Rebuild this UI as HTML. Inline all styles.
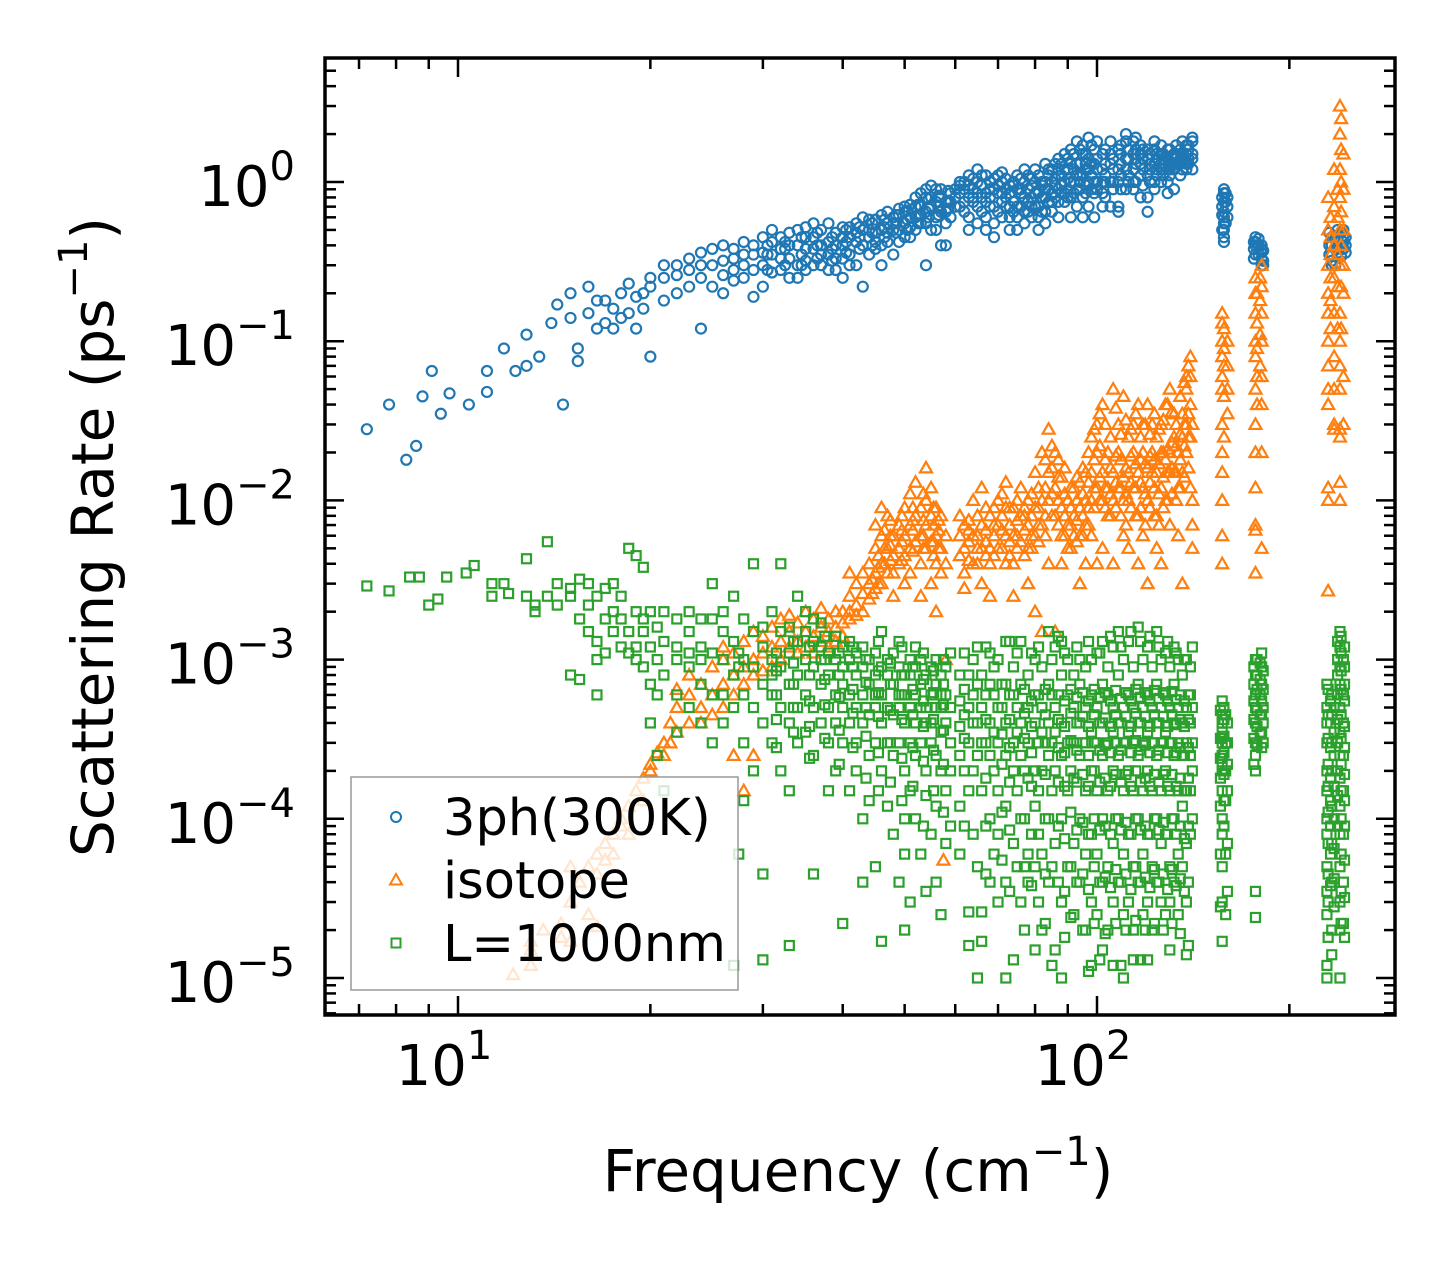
<!DOCTYPE html>
<html><head><meta charset="utf-8"><title>Scattering Rate</title>
<style>html,body{margin:0;padding:0;background:#fff;}svg{display:block;font-family:"DejaVu Sans","Liberation Sans",sans-serif;}</style>
</head><body>
<svg id="chart" width="1455" height="1265" viewBox="0 0 1455 1265" xmlns="http://www.w3.org/2000/svg">
<rect width="1455" height="1265" fill="#fff"/>
<g id="marks"></g>
<g id="axes"></g>
</svg>
<script>
// ---- data (frequency in cm^-1, rates in ps^-1, grouped by frequency) ----
const xTickValues=[10,100];
const xTickLabels=["1","2"];
const yTickValues=[1,0.1,0.01,0.001,0.0001,0.00001];
const yTickLabels=["0","\u22121","\u22122","\u22123","\u22124","\u22125"];
const seriesNames=["3ph(300K)","isotope","L=1000nm"];

const phFreq=[7.2,7.8,8.3,8.6,8.8,9.1,9.4,9.7,10.4,11.1,11.8,12.3,12.8,13.4,14,14.3,14.6,15,15.4,16,16.5,17,17.5,18,18.5,19,19.5,20,21,22,23,24,25,26,27,28,29,30,31,32,33,34,35,36,37,38,39,40,41,42,43,44,45,46,47,48,49,50,51,52,53,54,55,56,57,58,59,61,63,65,67,69,71,73,75,77,79,81,83,85,87,89,91,93,95,97,99,102,105,108,111,114,117,120,123,126,129,132,135,138,141,158,160,177,181,233,238,243];
const phRate=[[.028],[.04],[.018],[.022],[.045],[.065],[.035],[.047],[.04],[.065,.048],[.09],[.065],[.11,.07],[.08],[.13],[.17],[.04],[.2,.14],[.09,.075],[.15,.22],[.12,.18],[.18,.13],[.12,.16],[.2,.14],[.15,.23],[.12,.19],[.2,.16],[.08,.22,.25],[.25,.18,.3],[.3,.2,.26],[.22,.28,.33],[.12,.3,.25,.36],[.3,.22,.38],[.32,.26,.4,.2],[.28,.38,.33,.24],[.3,.25,.42,.35],[.35,.4,.28,.19],[.3,.22,.45,.36],[.42,.35,.27,.5],[.28,.45,.33,.38],[.33,.25,.48,.4],[.4,.5,.3,.25],[.32,.28,.45,.38,.52],[.45,.38,.3,.55],[.3,.5,.4,.35],[.35,.42,.28,.55],[.28,.48,.4,.33],[.4,.33,.52,.45,.25],[.52,.45,.35,.3],[.3,.55,.42,.48],[.4,.22,.5,.6],[.5,.45,.35,.58],[.58,.38,.48,.42],[.5,.62,.4,.3],[.42,.55,.65,.48],[.35,.6,.5,.55],[.5,.62,.42,.68],[.65,.45,.55,.7],[.45,.6,.72,.52],[.6,.7,.5,.8],[.7,.55,.85,.62],[.55,.8,.65,.9,.3],[.8,.5,.7,.95],[.5,.9,.6,.75],[.9,.65,.4,.8],[.65,.4,.75,.55],[.75,.85,.6],[.85,.95,.7,1.0],[.8,.95,.6,1.1,.5],[1.0,.7,.85,.55,1.2],[.85,1.1,.6,.75,.5],[.55,.9,1.05,.7,.45],[.75,1.0,.6,.85,1.15],[.6,.85,.95,.5,.7],[.5,.7,.9,1.1,.6],[1.0,.8,.65,.55,1.2],[.6,.95,.8,.7,1.05],[.7,1.1,.85,.6,.5],[.55,.8,1.0,.9,.65,1.3],[1.0,.65,.85,1.2,.75],[1.2,.9,.75,1.4,.6],[.75,1.5,1.0,.85,1.2],[1.0,.6,1.3,.8,1.6],[1.3,1.8,.9,1.1,.7],[.8,1.1,1.5,1.7,.6],[.7,1.4,1.0,1.2,1.9],[1.0,.6,1.3,.85,1.6],[1.2,.85,1.5,1.0,.7],[1.5,1.0,.7,1.3,1.8],[1.0,.7,1.2,1.6,.65],[1.8,1.2,.9,2.0,1.4],[1.2,.9,1.5,1.8,1.0],[1.5,1.1,.8,1.3,1.7],[1.1,.8,1.4,.65,1.6],[1.6,1.3,1.0,1.8,.9],[1.3,1.0,1.5,1.2,1.7],[1.0,1.4,1.2,1.6,.85],[1.2,.9,1.5,1.3],[1.6,1.3,1.4,1.1],[1.3,1.5,1.7,1.2],[1.5,1.8,1.2,1.9,1.4],[.45,.55,.65,.75,.85,.9,.6,.5,.42],[.8,.7,.6],[.45,.4,.35,.42],[.38,.33,.3,.4,.36],[.45,.35,.3,.4,.32],[.5,.42,.38,.45,.36],[.42,.38,.5,.46]];
const phFreq2=[30.5,32.5,34.5,36.5,38.5,40.5,42.5,44.5,46.5,48.5,50.5,52.5,54.5,56.5,58.5,60,62,64,66,68,70,72,74,76,78,80,82,84,86,88,90,92,94,96,98,100,103,106,109,112,115,118,121,124,127,130,133,136,139,157,159,176,179,182,231,236,241,245];
const phRate2=[[.35,.28,.4],[.38,.3,.42],[.35,.45,.3],[.4,.33,.48],[.45,.38,.32],[.42,.5,.36],[.45,.38,.52],[.48,.4,.55],[.52,.45,.58],[.55,.48,.62],[.58,.5,.66],[.62,.55,.72],[.68,.6,.78],[.7,.62,.82],[.75,.68,.88],[.9,.7,.8],[.75,1.0,.65,.9],[.9,.75,1.05,.8],[.8,.95,.65,1.1],[.7,.9,.8,1.0],[.85,.65,1.1,.95],[.8,.7,.9,1.05],[.95,.75,.65,1.0],[.85,1.05,.7,.9],[.9,.75,1.1,.65],[.85,1.0,.7,1.2],[.8,.95,.65,1.0],[.9,1.1,.75,1.2],[.95,.8,1.05,1.3],[1.1,.85,1.3,.95],[1.2,.9,1.05,.8,1.4],[1.0,1.2,.85,1.5],[1.1,.9,1.3,1.0,1.6],[1.3,.95,1.2,1.5,.85],[1.1,1.3,.9,1.7],[1.2,.9,1.0,1.4,1.8],[1.0,1.3,1.1,.8,1.6],[1.2,.9,1.0,1.4],[1.3,1.1,1.5,.9,1.7],[1.0,1.4,1.6,1.1],[1.3,1.0,1.6,1.4,1.9],[1.2,1.4,.95,1.6],[1.3,1.5,1.0,1.2],[1.1,1.4,1.2,1.5],[1.5,1.2,1.4,1.1],[1.3,1.1,1.6,1.2],[1.4,1.5,1.3,1.7],[1.2,1.4,1.5,1.8],[1.4,1.6,1.3,1.7],[.5,.7,.8,.62],[.55,.75,.85],[.42,.38,.33],[.4,.35,.44],[.32,.37,.3],[.4,.48,.35],[.44,.38,.3],[.48,.4,.34],[.4,.45,.36]];

const isoFreq=[12.2,13,13.6,14.5,15,15.5,16,16.5,17,17.5,18,18.5,19,19.5,20,20.5,21,21.5,22,23,24,25,26,27,28,29,30,31,32,33,34,35,36,37,38,39,40,41,42,43,44,45,46,47,48,49,50,51,52,53,54,55,56,57,57.5,58,62,64,66,68,70,72,74,76,78,80,82,84,86,88,90,92,94,96,98,100,102,104,106,108,110,112,114,116,118,120,122,124,126,128,130,132,134,136,138,140,141,157,160,177,181,230,235,240,243];
const isoRate=[[1.05e-5],[1.5e-5,1.7e-5,1.2e-5],[2e-5],[2.2e-5,1.8e-5],[3e-5,5e-5,1.7e-5],[4e-5],[5e-5,2.5e-5],[6e-5,4.5e-5,2.1e-5],[7e-5,5.5e-5],[8e-5,6e-5],[1e-4,9e-5],[1.2e-4,8e-5],[1.5e-4],[1.8e-4,1.3e-4],[2e-4,2.2e-4],[2.6e-4],[3e-4,2.5e-4],[4e-4,3e-4],[5e-4,3.5e-4,6.5e-4],[6e-4,4e-4,8e-4],[7e-4,5e-4,4e-4],[9e-4,6e-4,4.5e-4],[1e-3,7e-4,5e-4,1.2e-3],[1.1e-3,8e-4,6e-4,2.5e-4],[1.3e-3,9e-4,7e-4,1.5e-4],[1.5e-3,1e-3,8e-4,2.5e-4],[1.4e-3,1.1e-3,8.5e-4],[1.6e-3,1.2e-3,9e-4],[1.8e-3,1.3e-3,1e-3],[1.5e-3,1.2e-3,1.9e-3],[1.7e-3,1.3e-3,1.1e-3],[1.5e-3,1.2e-3,2e-3],[1.8e-3,1.4e-3,1.1e-3],[1.6e-3,1.3e-3,2.1e-3],[1.5e-3,1.2e-3,1.8e-3],[1.6e-3,2e-3,1.3e-3],[2e-3,1.7e-3,1.4e-3],[2.5e-3,2e-3,3.5e-3,1.8e-3],[2.2e-3,3e-3,1.9e-3],[2.6e-3,3.5e-3,2e-3],[3e-3,2.4e-3,4e-3],[5e-3,3.5e-3,2.8e-3,7e-3],[6e-3,4e-3,3e-3,9e-3],[5e-3,8e-3,3.5e-3],[4.5e-3,6e-3,3.5e-3,2.5e-3],[5e-3,7e-3,4e-3],[6e-3,9e-3,4.5e-3,3e-3],[7e-3,1.1e-2,5e-3,3.5e-3],[8e-3,5.5e-3,1.3e-2],[6e-3,9e-3,4e-3,2.5e-3],[1e-2,7e-3,1.6e-2,5e-3],[8e-3,1.2e-2,5.5e-3,3e-3],[6e-3,4e-3,9e-3,2e-3],[5e-3,8e-3,3.5e-3],[5.5e-5],[6e-3,1e-3,4e-3],[5e-3,7e-3,3.5e-3,2.8e-3],[6e-3,1e-2,4e-3],[7e-3,5e-3,1.2e-2,3e-3],[5e-3,8e-3,4e-3,2.5e-3],[7e-3,1e-2,5e-3],[9e-3,6e-3,1.3e-2,4e-3],[6e-3,9e-3,4e-3,2.5e-3],[8e-3,1.2e-2,5.5e-3],[7e-3,5e-3,1e-2,3e-3],[9e-3,1.5e-2,6e-3,2e-3],[1e-2,2e-2,7e-3,1.5e-3],[1.5e-2,2.8e-2,1e-2,4e-3],[1.2e-2,2e-2,8e-3,1.5e-3],[9e-3,1.4e-2,6e-3,4e-3],[1e-2,7e-3,5e-3],[8e-3,1.2e-2,6e-3],[9e-3,6e-3,1.3e-2,3e-3],[1e-2,7e-3,1.5e-2,4e-3],[1.5e-2,2.5e-2,1e-2,6e-3],[2e-2,3e-2,1.2e-2,4e-3],[1.5e-2,4e-2,1e-2,5e-3],[1.2e-2,2e-2,8e-3],[1.5e-2,5e-2,1e-2,4e-3],[2e-2,1.2e-2,3e-2],[1.4e-2,4.5e-2,1e-2,6e-3],[1.5e-2,2.5e-2,1e-2,5e-3],[2e-2,3e-2,1.2e-2],[1.5e-2,4e-2,8e-3,4e-3],[2e-2,1.2e-2,3e-2,6e-3],[1.6e-2,4e-2,1e-2,3e-3],[2e-2,3e-2,1.5e-2],[1.5e-2,2.5e-2,8e-3,5e-3],[2e-2,1.2e-2,3e-2,4e-3],[1.8e-2,4e-2,1e-2],[2e-2,5e-2,1.5e-2,7e-3],[2.5e-2,1.5e-2,3.5e-2],[2e-2,1.2e-2,6e-3],[2.5e-2,3.5e-2,1.5e-2,3e-3],[3e-2,5e-2,6e-2,2e-2],[4e-2,6e-2,8e-2,2.5e-2,1.2e-2],[3e-2,1e-2,5e-3,7e-3],[.06,.1,.13,.08,.15,.05,.03,.02,.015,.01,.006,.004],[.1,.07,.05,.035],[.15,.2,.25,.1,.08,.05,.03,.02,.012,.007,.0065,.0035],[.3,.22,.15,.1,.06,.04,.02,.005],[.8,.5,.3,.2,.15,.1,.07,.05,.04,.012,.01,.0027],[1.2,.7,.4,.25,.15,.08,.05,.03,.028],[3,2,1.2,.8,.5,.3,.15,.1,.07,.05,.028,.025,.013,.01],[1.5,.9,.5,.3,.2,.06,.03]];
const isoFreq2=[44.5,45.5,46.5,47.5,49.5,51.5,53.5,55.5,56.5,61,63,65,67,69,71,73,75,77,79,81,83,85,87,89,91,93,95,97,99,101,103,105,107,109,111,113,115,117,119,121,123,125,127,129,131,133,135,137,139,158,178,180,232,238,241];
const isoRate2=[[2.6e-3,3.2e-3],[3.8e-3,4.5e-3,3e-3],[5e-3,6.5e-3,4e-3],[6e-3,4.2e-3,7.5e-3,5.2e-3],[5.5e-3,4.2e-3,8e-3,6.5e-3],[6.5e-3,9e-3,4.8e-3,7.5e-3],[7.5e-3,5e-3,1.1e-2,6e-3],[7e-3,9e-3,5.5e-3,4.5e-3],[6.5e-3,5e-3,7.5e-3],[4.5e-3,6e-3,8e-3],[5.5e-3,4.2e-3,7.5e-3,6.5e-3],[6e-3,8e-3,5e-3,4e-3],[5.5e-3,9e-3,6.5e-3,4.5e-3],[6e-3,4.5e-3,7e-3,9e-3],[6.5e-3,8e-3,5e-3,1.1e-2],[7e-3,5.5e-3,9e-3,4.5e-3],[7.5e-3,5e-3,1e-2,6e-3],[6.5e-3,9e-3,4.5e-3,8e-3],[8e-3,6e-3,1.1e-2,5e-3],[9e-3,1.2e-2,7e-3,5.5e-3],[1.2e-2,8e-3,1.8e-2,6e-3],[1.6e-2,1.1e-2,2.2e-2,8e-3],[1.4e-2,1e-2,1.8e-2,7e-3],[1.1e-2,8e-3,1.6e-2,6e-3],[9e-3,1.2e-2,7e-3,5e-3],[1e-2,7.5e-3,1.4e-2,5.5e-3],[1.1e-2,8e-3,1.6e-2,6e-3],[1.3e-2,9e-3,2e-2,7e-3],[1.8e-2,1.2e-2,2.8e-2,9e-3],[2.2e-2,1.4e-2,3.5e-2,1e-2],[1.8e-2,1.2e-2,3e-2,9e-3],[1.6e-2,1.1e-2,2.5e-2,8e-3],[1.9e-2,1.3e-2,3.8e-2,9e-3],[1.8e-2,1.2e-2,2.6e-2,8e-3],[1.6e-2,1.1e-2,3.2e-2,7e-3],[1.9e-2,1.3e-2,2.8e-2,9e-3],[1.7e-2,1.2e-2,3.5e-2,8e-3],[1.8e-2,1.3e-2,2.5e-2,9e-3],[1.7e-2,1.1e-2,3e-2,7e-3],[1.9e-2,1.3e-2,2.6e-2,9e-3],[1.8e-2,1.2e-2,3.5e-2,8e-3],[1.7e-2,1.1e-2,2.8e-2,7e-3],[2e-2,1.4e-2,3.2e-2,9e-3],[2.1e-2,1.5e-2,4e-2,1e-2],[2.3e-2,1.6e-2,3.6e-2,1.1e-2],[2.2e-2,1.5e-2,3e-2,1e-2],[2.6e-2,1.8e-2,4.5e-2,1.2e-2],[3e-2,2.2e-2,5.5e-2,1.4e-2],[3.5e-2,2.5e-2,7e-2,1.6e-2],[.12,.09,.07,.045,.025],[.2,.13,.09,.06,.04],[.25,.18,.11,.07],[.6,.45,.35,.25,.18,.12],[.9,.6,.35,.22,.12],[2.5,1.6,1,.65,.4,.22,.12]];

const bndFreq=[7.2,7.8,8.4,8.7,9,9.3,9.6,10.3,10.6,11.3,11.8,12,12.8,13.2,13.8,14.3,15,15.5,16,16.5,17,17.5,18,18.5,19,19.5,20,20.5,21,22,23,24,25,26,27,27.5,28,29,30,31,32,33,34,35,36,37,38,39,40,41,42,43,44,45,46,47,48,49,50,51,52,53,54,55,56,57,58,59,63,64,65,66,68,69,70,72,74,75,76,78,80,81,82,84,85,86,88,90,92,94,96,98,100,102,104,106,108,110,112,114,116,118,120,122,124,126,128,130,132,134,136,138,140,141,157,159,177,181,229,233,240,243];
const bndRate=[[2.9e-3],[2.7e-3],[3.3e-3],[3.3e-3],[2.2e-3],[2.4e-3],[3.3e-3],[3.5e-3],[3.9e-3],[3e-3,2.5e-3],[3e-3],[2.6e-3],[4.3e-3,2.5e-3],[2e-3,2.2e-3],[5.5e-3,2.5e-3],[3e-3,2.2e-3],[2.5e-3,8e-4,2.8e-3],[3.2e-3,1.8e-3,7.5e-4],[1.5e-3,3e-3,2.2e-3],[1.3e-3,2.5e-3,1e-3,6e-4],[2.8e-3,1.1e-3,1.8e-3],[2e-3,1.5e-3,3e-3],[1.2e-3,2.5e-3,1.8e-3],[1.5e-3,5e-3,1.1e-3],[2e-3,1e-3,4.5e-3,1.2e-3],[1.8e-3,9e-4,1.5e-3,3.8e-3],[2e-3,1.2e-3,7e-4,4e-4],[1.6e-3,1e-3,6e-4,2.5e-4],[1.3e-3,2e-3,8e-4,1.5e-4],[1.8e-3,1e-3,6e-4,1.2e-3,3.5e-4],[1.5e-3,9e-4,2e-3,5e-4,1.1e-3],[1.2e-3,7e-4,1.8e-3,4e-4,1e-3],[1.8e-3,1.1e-3,6e-4,3e-3,3e-4],[1e-3,1.5e-3,6e-4,4e-4,2e-3],[1.3e-3,8e-4,5e-4,2.5e-3,1.2e-5],[6e-5,9e-4,1.1e-3],[1.8e-3,1e-3,6e-4,3e-4,1.3e-4],[1.5e-3,4e-3,9e-4,5e-4,2e-4],[1.2e-3,7e-4,4e-4,1.6e-3,4.5e-5,1.3e-5],[2e-3,1e-3,6e-4,3e-4,8e-4],[1.5e-3,9e-4,5e-4,4e-3,2e-4],[1.1e-3,7e-4,4e-4,1.6e-3,1.6e-5,1.5e-4],[1.3e-3,8e-4,5e-4,2.5e-3,3e-4],[1e-3,6e-4,1.5e-3,3.5e-4,2e-3],[9e-4,1.3e-3,5e-4,2.5e-4,1.8e-3,4.5e-5],[1.2e-3,7e-4,4e-4,1e-3,1.7e-3],[8e-4,1.1e-3,5e-4,3e-4,1.5e-4],[1e-3,6e-4,1.4e-3,4e-4,2e-4],[7e-4,1.2e-3,5e-4,9e-4,3e-4,2.2e-5],[1e-3,6e-4,4e-4,1.3e-3,1.5e-4],[8e-4,1.1e-3,5e-4,3e-4,2e-4],[9e-4,6e-4,1.2e-3,4e-4,1e-4,4e-5],[7e-4,1e-3,4.5e-4,2.5e-4,1.3e-4],[8e-4,5e-4,1.1e-3,3e-4,6e-4,5e-5],[6e-4,9e-4,4e-4,2e-4,1.5e-3,1.7e-5],[8e-4,5e-4,1e-3,3e-4,1.2e-4],[7e-4,4.5e-4,1.1e-3,2.5e-4,8e-5],[9e-4,5e-4,3e-4,6e-4,1.3e-3,4e-5],[6e-4,8e-4,4e-4,2e-4,1e-4,6e-5,2e-5],[8e-4,5e-4,1e-3,3e-4,1.5e-4,3e-5],[6e-4,4e-4,9e-4,2.5e-4,1.2e-3,1e-4],[7e-4,5e-4,3e-4,1e-3,6e-5],[5e-4,8e-4,4e-4,2e-4,1.4e-4,3.5e-5],[6e-4,9e-4,4e-4,3e-4,8e-5],[7e-4,5e-4,1e-3,2.5e-4,1.2e-4,4e-5],[5e-4,8e-4,3.5e-4,6e-4,2e-4,2.5e-5],[6e-4,4e-4,9e-4,1.5e-4,7e-5],[5e-4,3e-4,1.1e-3,2e-4,9e-5],[5e-4,3e-4,8e-4,1.5e-4,2.6e-5,1.6e-5],[4e-4,6e-4,2e-4,1e-3,8e-5],[7e-4,4e-4,2.5e-4,1.2e-3,5e-5,1e-5],[5e-4,3e-4,8e-4,1.5e-4,1.7e-5,2.6e-5],[4e-4,7e-4,2.5e-4,1.1e-3,1e-4,4e-5],[6e-4,3.5e-4,9e-4,2e-4,6e-5],[5e-4,3e-4,1e-3,1.5e-4,8e-5,3e-5],[4e-4,7e-4,2.5e-4,1.3e-3,1.2e-4,4e-5,1e-5],[6e-4,3e-4,9e-4,2e-4,7e-5,1.3e-5],[5e-4,3.5e-4,1.1e-3,1.5e-4,5e-5],[4e-4,7e-4,2.5e-4,1.3e-3,1e-4,3e-5],[5e-4,3e-4,8e-4,1.8e-4,6e-5,4e-5],[4e-4,6e-4,2e-4,1e-3,1.2e-4,5e-5,1.5e-5],[6e-4,3e-4,1.2e-3,1.5e-4,8e-5,3e-5],[5e-4,3.5e-4,9e-4,2e-4,6e-5,2e-5],[4e-4,7e-4,2.5e-4,1.5e-3,1e-4,4e-5],[6e-4,3e-4,1e-3,1.5e-4,5e-5,1.2e-5],[5e-4,3.5e-4,1.2e-3,2e-4,7e-5,1.5e-5],[4e-4,8e-4,2.5e-4,1.3e-3,1e-4,3e-5,1e-5],[6e-4,3e-4,1e-3,1.5e-4,5e-5],[5e-4,3e-4,8e-4,1.8e-4,7e-5,2.5e-5],[4e-4,7e-4,2.5e-4,1e-3,1e-4,4e-5],[5e-4,3e-4,9e-4,1.5e-4,6e-5,2e-5],[6e-4,3.5e-4,1e-3,2e-4,8e-5,3e-5,1.2e-5],[5e-4,3e-4,1.1e-3,1.5e-4,6e-5,2.5e-5],[4e-4,7e-4,2.5e-4,1.3e-3,1e-4,4e-5,1.5e-5],[6e-4,3e-4,9e-4,1.5e-4,5e-5,2e-5],[5e-4,3.5e-4,1.2e-3,2e-4,7e-5,3e-5,1.2e-5],[4e-4,8e-4,2.5e-4,1.5e-3,1e-4,4e-5],[5e-4,3e-4,1e-3,1.5e-4,6e-5,2.5e-5,1e-5],[6e-4,3.5e-4,1.3e-3,2e-4,8e-5,3e-5],[5e-4,3e-4,9e-4,1.5e-4,5e-5,2e-5,1.3e-5],[4e-4,7e-4,2.5e-4,1.6e-3,1e-4,4e-5],[5e-4,3e-4,1e-3,1.5e-4,6e-5,2.5e-5],[6e-4,3.5e-4,1.2e-3,2e-4,8e-5,3e-5,1.3e-5],[5e-4,3e-4,9e-4,1.5e-4,5e-5,2e-5],[4e-4,7e-4,2.5e-4,1.5e-3,1e-4,4e-5],[5e-4,3e-4,1e-3,1.5e-4,7e-5,3e-5],[6e-4,3.5e-4,1.1e-3,2e-4,8e-5,2.5e-5],[5e-4,3e-4,9e-4,1.5e-4,5e-5,3e-5,1.5e-5],[4e-4,7e-4,2.5e-4,1.2e-3,1e-4,4e-5],[5e-4,3e-4,1e-3,1.5e-4,6e-5,2.5e-5],[4e-4,2.5e-4,8e-4,1.2e-4,5e-5],[5e-4,3e-4,1e-3,1.5e-4,7e-5,3e-5,1.4e-5],[4e-4,6e-4,2.5e-4,9e-4,1.5e-4,8e-5],[3e-4,5e-4,2e-4,1.2e-3,1e-4],[5.5e-4,4e-4,3e-4,2.5e-4,2e-4,1.5e-4,1e-4,8e-5,5e-5,3e-5,1.7e-5,4.5e-4,3.5e-4,2.2e-4],[4.5e-4,3e-4,2e-4,1.3e-4,6e-5,2.5e-5],[1e-3,8e-4,6e-4,5e-4,4e-4,3e-4,2.5e-4,2e-4,3.5e-5,2.4e-5],[1.1e-3,9e-4,7e-4,5.5e-4,4.5e-4,3.5e-4,2.8e-4],[7e-4,5e-4,4e-4,3e-4,2e-4,1.5e-4,1e-4,8e-5,5e-5,3.5e-5,2.5e-5,1.2e-5,1e-5],[6e-4,4.5e-4,3e-4,2e-4,1.2e-4,7e-5,4e-5,2e-5,1.4e-5],[1.5e-3,1.2e-3,9e-4,7e-4,5e-4,3.5e-4,2.5e-4,1.8e-4,1.2e-4,8e-5,5e-5,3e-5,2e-5,1e-5],[1e-3,6e-4,4e-4,2.5e-4,1.5e-4,8e-5,4e-5,2.2e-5]];
const bndFreq2=[31.5,33.5,35.5,37.5,39.5,41.5,43.5,45.5,47.5,49.5,51.5,53.5,55.5,57.5,61,62,67,71,73,77,79,83,87,89,91,93,95,97,99,101,103,105,107,109,111,113,115,117,119,121,123,125,127,129,131,133,135,137,139,156,158,160,176,178,180,182,230,232,235,238,241,244];
const bndRate2=[[1.1e-3,8.5e-4,6e-4,4.2e-4,2.8e-4],[9.5e-4,7e-4,5e-4,3.5e-4,1.3e-3],[1.2e-3,8e-4,5.5e-4,3.8e-4,2.4e-4],[1e-3,7.5e-4,5.2e-4,3.2e-4,1.4e-3],[1.1e-3,8e-4,5.8e-4,3.6e-4,2.2e-4],[9e-4,6.5e-4,4.6e-4,2.8e-4,1.2e-3],[1e-3,7.2e-4,5e-4,3.3e-4,1.8e-4],[8.5e-4,6.2e-4,4.4e-4,2.6e-4,1.3e-3,1.5e-4],[9.5e-4,7e-4,4.8e-4,3e-4,1.7e-4],[8e-4,6e-4,4.2e-4,2.4e-4,1.2e-3,1.3e-4],[9e-4,6.5e-4,4.5e-4,2.8e-4,1.6e-4],[7.5e-4,5.5e-4,3.8e-4,2.3e-4,1.1e-3,9e-5],[8.5e-4,6.2e-4,4.2e-4,2.7e-4,1.5e-4],[7e-4,5.2e-4,3.6e-4,2.2e-4,1e-3,1.1e-4],[8e-4,5.5e-4,3.8e-4,2.5e-4,1.2e-4,6e-5],[6.5e-4,4.5e-4,3.2e-4,2e-4,9e-5,1.1e-3],[6e-4,4.2e-4,3e-4,1.8e-4,9e-5,4.5e-5,1.2e-3],[7e-4,5e-4,3.4e-4,2.2e-4,1.1e-4,5.5e-5],[6e-4,4.2e-4,2.8e-4,1.7e-4,8.5e-5,3.5e-5,1.3e-3],[6.5e-4,4.6e-4,3.2e-4,2e-4,1e-4,5e-5,2e-5],[5.5e-4,3.8e-4,2.6e-4,1.6e-4,8e-5,3.8e-5,1.1e-3],[6.5e-4,4.5e-4,3e-4,1.9e-4,1e-4,4.5e-5,2.2e-5],[6e-4,4.2e-4,2.8e-4,1.7e-4,9e-5,4e-5,1.4e-3],[5.5e-4,3.8e-4,2.6e-4,1.6e-4,7.5e-5,3.5e-5,1.8e-5,1.1e-3],[6.5e-4,4.6e-4,3.1e-4,2e-4,1.1e-4,5e-5,2.4e-5],[5.8e-4,4e-4,2.7e-4,1.7e-4,8.5e-5,4e-5,1.2e-3],[6.2e-4,4.4e-4,3e-4,1.9e-4,9.5e-5,4.5e-5,2e-5],[5.5e-4,3.8e-4,2.5e-4,1.6e-4,8e-5,3.6e-5,1.3e-3,1.1e-5],[6.5e-4,4.5e-4,3e-4,2e-4,1e-4,5e-5,2.2e-5],[5.8e-4,4e-4,2.7e-4,1.7e-4,8.5e-5,4e-5,1.1e-3,1.3e-5],[6.2e-4,4.3e-4,2.9e-4,1.8e-4,9e-5,4.3e-5,1.9e-5],[5.5e-4,3.8e-4,2.6e-4,1.6e-4,8e-5,3.7e-5,1.4e-3],[6.4e-4,4.5e-4,3e-4,1.9e-4,1e-4,4.8e-5,2.2e-5],[5.7e-4,4e-4,2.7e-4,1.7e-4,8.5e-5,4e-5,1.2e-3,1.2e-5],[6.2e-4,4.4e-4,3e-4,1.9e-4,9.5e-5,4.5e-5,2e-5],[5.5e-4,3.8e-4,2.6e-4,1.6e-4,8e-5,3.6e-5,1.5e-3],[6.5e-4,4.6e-4,3.1e-4,2e-4,1e-4,5e-5,2.3e-5],[5.8e-4,4e-4,2.7e-4,1.7e-4,8.5e-5,4e-5,1.3e-3,1.3e-5],[6.2e-4,4.4e-4,2.9e-4,1.8e-4,9e-5,4.3e-5,2e-5],[5.5e-4,3.8e-4,2.6e-4,1.6e-4,8e-5,3.7e-5,1.4e-3],[6.4e-4,4.5e-4,3e-4,1.9e-4,1e-4,4.8e-5,2.2e-5],[5.7e-4,4e-4,2.7e-4,1.7e-4,8.5e-5,4e-5,1.2e-3],[6.2e-4,4.4e-4,3e-4,1.9e-4,9.5e-5,4.5e-5,2e-5],[5.5e-4,3.8e-4,2.6e-4,1.6e-4,8e-5,3.6e-5,1.3e-3],[6.3e-4,4.5e-4,3e-4,1.9e-4,1e-4,4.8e-5,2.2e-5],[5.6e-4,3.9e-4,2.6e-4,1.6e-4,8e-5,3.8e-5,1.1e-3],[6e-4,4.2e-4,2.8e-4,1.8e-4,9e-5,4.2e-5,1.9e-5],[5.5e-4,3.8e-4,2.5e-4,1.5e-4,7.5e-5,3.5e-5,1e-3],[6e-4,4.2e-4,2.8e-4,1.8e-4,9e-5,4e-5,1.6e-5],[4.8e-4,3.2e-4,2.4e-4,1.8e-4,1.2e-4,6e-5,2.8e-5],[5e-4,4.2e-4,3.3e-4,2.6e-4,1.9e-4,1.3e-4,9e-5],[4e-4,3e-4,2.2e-4,1.5e-4,7e-5,3.5e-5],[9e-4,7e-4,5.5e-4,4.2e-4,3.2e-4,2.2e-4],[1e-3,8e-4,6.5e-4,4.8e-4,3.8e-4,2.9e-4],[9.5e-4,7.5e-4,6e-4,4.5e-4,3.4e-4],[8.5e-4,6.5e-4,5e-4,4e-4,3e-4],[6.5e-4,4.5e-4,3.2e-4,2.2e-4,1.6e-4,1.1e-4,7e-5,4.5e-5,3e-5,1.8e-5],[5.5e-4,4e-4,2.8e-4,1.8e-4,1.3e-4,9e-5,6e-5,3.8e-5],[5e-4,3.5e-4,2.5e-4,1.6e-4,1e-4,6.5e-5,4.2e-5,2.8e-5],[1.3e-3,1e-3,8e-4,6e-4,4.2e-4,3e-4,2e-4,1.4e-4,9e-5],[1.4e-3,1.1e-3,8.5e-4,6.5e-4,4.5e-4,3.2e-4,2.2e-4,1.5e-4,1e-4,6e-5,3.5e-5,2.2e-5],[1.2e-3,9e-4,7e-4,5.5e-4,3.8e-4,2.8e-4,1.9e-4,1.3e-4,9e-5,5.5e-5,3.2e-5,1.8e-5]];

// ---- scales ----
const L=325,R=1395,T=58,B=1015;
const xPx=f=>458+639*(Math.log10(f)-1);
const yPx=v=>182-159.2*Math.log10(v);
const NS="http://www.w3.org/2000/svg";
function mk(tag,attrs,parent){const e=document.createElementNS(NS,tag);for(const k in attrs)e.setAttribute(k,attrs[k]);parent.appendChild(e);return e;}

const marks=document.getElementById('marks');
const clip=mk('clipPath',{id:'pc'},marks);mk('rect',{x:L,y:T,width:R-L,height:B-T},clip);
const colors=["#1f77b4","#ff7f0e","#2ca02c"];
function circle(g,cx,cy,c){return mk('circle',{cx:cx,cy:cy,r:5,fill:'none',stroke:c,'stroke-width':2.2},g);}
function tri(g,cx,cy,c){return mk('polygon',{points:`${cx},${cy-6} ${cx-6},${cy+4.5} ${cx+6},${cy+4.5}`,fill:'none',stroke:c,'stroke-width':2.2},g);}
function sq(g,cx,cy,c){return mk('rect',{x:cx-4.5,y:cy-4.5,width:9,height:9,fill:'none',stroke:c,'stroke-width':2.2},g);}
const sets=[[[phFreq,phRate],[phFreq2,phRate2],circle,'series-3ph'],[[isoFreq,isoRate],[isoFreq2,isoRate2],tri,'series-isotope'],[[bndFreq,bndRate],[bndFreq2,bndRate2],sq,'series-boundary']];
sets.forEach((s,si)=>{
  const g=mk('g',{'clip-path':'url(#pc)'},marks);
  
  
  [s[0],s[1]].forEach(pair=>{
    pair[0].forEach((f,i)=>{pair[1][i].forEach(v=>{
      const p=s[2](g,xPx(f),yPx(v),colors[si]);
      
      
    });});
  });
});

// ---- axes ----
const ax=document.getElementById('axes');
const tk={stroke:'#000','stroke-width':2.5};
for(let d=0;d<=2;d++){for(let m=1;m<=9;m++){const f=m*Math.pow(10,d);const x=xPx(f);if(x<L||x>R)continue;const len=m===1?19:11;
  mk('line',Object.assign({x1:x,x2:x,y1:B,y2:B-len},tk),ax);mk('line',Object.assign({x1:x,x2:x,y1:T,y2:T+len},tk),ax);}}
for(let d=-6;d<=1;d++){for(let m=1;m<=9;m++){const v=m*Math.pow(10,d);const y=yPx(v);if(y<T||y>B)continue;const len=m===1?19:11;
  mk('line',Object.assign({x1:L,x2:L+len,y1:y,y2:y},tk),ax);mk('line',Object.assign({x1:R,x2:R-len,y1:y,y2:y},tk),ax);}}
const frame=mk('rect',{x:L,y:T,width:R-L,height:B-T,fill:'none',stroke:'#000','stroke-width':3.5},ax);

xTickValues.forEach((v,i)=>{
  const t=mk('text',{x:xPx(v)-14,y:1085,'font-size':56,'text-anchor':'middle',fill:'#000'},ax);
  
  
  t.textContent='10';
  const s=mk('tspan',{dy:-26,'font-size':40},t);s.textContent=xTickLabels[i];
});
yTickValues.forEach((v,i)=>{
  const t=mk('text',{x:295,y:yPx(v)+24,'font-size':56,'text-anchor':'end',fill:'#000'},ax);
  
  
  const a=mk('tspan',{},t);a.textContent='10';
  const s=mk('tspan',{dy:-26,'font-size':40},t);s.textContent=yTickLabels[i];
});
</script>
<svg style="position:absolute;left:0;top:0" width="1455" height="1265" xmlns="http://www.w3.org/2000/svg">
<g>
<rect x="351" y="777" width="387" height="213" fill="#fff" fill-opacity="0.8" stroke="#999" stroke-width="1.5"/>
<g><circle cx="396" cy="817" r="5" fill="none" stroke="#1f77b4" stroke-width="2"/><text x="443" y="835" font-size="51" font-family="DejaVu Sans, Liberation Sans, sans-serif">3ph(300K)</text></g>
<g><polygon points="396,874 390,884.5 402,884.5" fill="none" stroke="#ff7f0e" stroke-width="2"/><text x="443" y="898" font-size="51" font-family="DejaVu Sans, Liberation Sans, sans-serif">isotope</text></g>
<g><rect x="391.5" y="938.5" width="9" height="9" fill="none" stroke="#2ca02c" stroke-width="2"/><text x="443" y="961" font-size="51" font-family="DejaVu Sans, Liberation Sans, sans-serif">L=1000nm</text></g>
</g>
<text x="858" y="1191" font-size="58" text-anchor="middle" font-family="DejaVu Sans, Liberation Sans, sans-serif">Frequency (cm<tspan dy="-26" font-size="40">−1</tspan><tspan dy="26">)</tspan></text>
<text transform="translate(113,537) rotate(-90)" font-size="58" text-anchor="middle" font-family="DejaVu Sans, Liberation Sans, sans-serif">Scattering Rate (ps<tspan dy="-26" font-size="40">−1</tspan><tspan dy="26">)</tspan></text>
</svg>
</body></html>
